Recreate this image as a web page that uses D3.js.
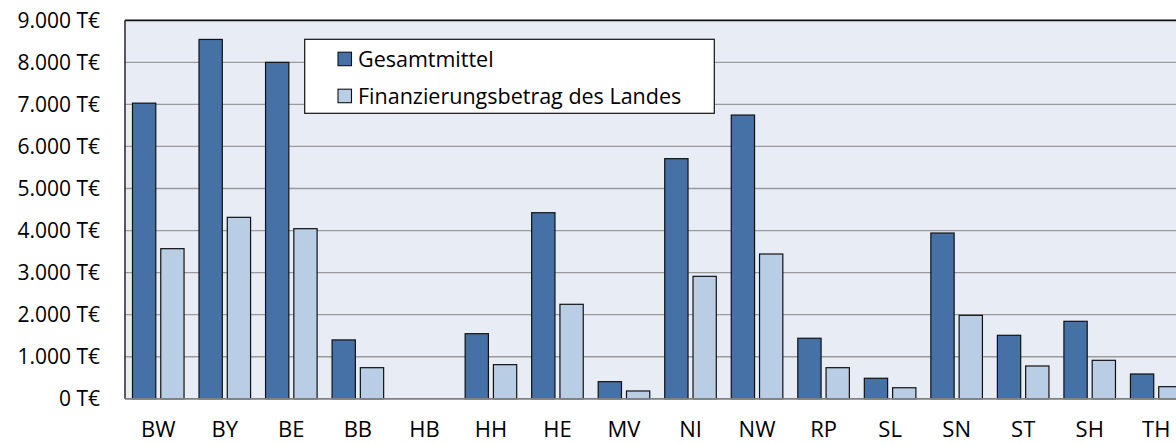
<!DOCTYPE html>
<html>
<head>
<meta charset="utf-8">
<script src="https://cdn.jsdelivr.net/npm/d3@7/dist/d3.min.js"></script>
<style>
  html, body { margin: 0; padding: 0; background: #fff; }
  svg { display: block; }
  text { font-family: "Open Sans", "Noto Sans", sans-serif; fill: #000; }
</style>
</head>
<body>
<svg id="chart" width="1176" height="444"></svg>
<script>
const categories = ["BW","BY","BE","BB","HB","HH","HE","MV","NI","NW","RP","SL","SN","ST","SH","TH"];
const gesamtmittel = [7030, 8545, 8000, 1400, 0, 1548, 4425, 408, 5710, 6747, 1440, 488, 3942, 1510, 1843, 590];
const finanzierung = [3570, 4315, 4045, 740, 0, 812, 2247, 186, 2912, 3443, 740, 263, 1985, 780, 915, 288];
const seriesNames = ["Gesamtmittel", "Finanzierungsbetrag des Landes"];
const yTicks = [0, 1000, 2000, 3000, 4000, 5000, 6000, 7000, 8000, 9000];

(function () {
const colors = ["#4571A7", "#B9CDE5"];
const svg = d3.select("#chart");

const pLeft = 125, pRight = 1189.5, pTop = 20.3, pBottom = 398.8;

const x = d3.scaleBand().domain(categories).range([pLeft, pRight]).padding(0);
const y = d3.scaleLinear().domain([0, 9000]).range([pBottom, pTop]);

const de = d3.formatLocale({decimal: ",", thousands: ".", grouping: [3], currency: ["", "€"]});
const fmt = v => de.format(",d")(v) + " T€";

// plot background
svg.append("rect")
  .attr("x", pLeft).attr("y", pTop)
  .attr("width", pRight - pLeft).attr("height", pBottom - pTop)
  .attr("fill", "#E8ECF4");

// gridlines
svg.append("g").selectAll("line")
  .data(yTicks.filter(d => d > 0 && d < 9000))
  .join("line")
  .attr("x1", pLeft).attr("x2", pRight)
  .attr("y1", d => y(d)).attr("y2", d => y(d))
  .attr("stroke", "#9A9A9A").attr("stroke-width", 1.3);

// bars
const bw = x.bandwidth();
const barW = bw * 0.35, outer = bw * 0.1125, inner = bw * 0.075;
const series = [gesamtmittel, finanzierung];
series.forEach((vals, si) => {
  svg.append("g").selectAll("rect")
    .data(categories.map((c, i) => ({c, v: vals[i]})).filter(d => d.v > 0))
    .join("rect")
    .attr("x", d => x(d.c) + outer + si * (barW + inner))
    .attr("y", d => y(d.v))
    .attr("width", barW)
    .attr("height", d => y(0) - y(d.v))
    .attr("fill", colors[si])
    .attr("stroke", "#111")
    .attr("stroke-width", 1.2);
});

// borders
svg.append("line").attr("x1", pLeft).attr("x2", pRight).attr("y1", pTop).attr("y2", pTop)
  .attr("stroke", "#111").attr("stroke-width", 1.8);
svg.append("line").attr("x1", pLeft).attr("x2", pLeft).attr("y1", pTop).attr("y2", pBottom)
  .attr("stroke", "#333").attr("stroke-width", 1.6);
svg.append("line").attr("x1", pLeft).attr("x2", pRight).attr("y1", pBottom).attr("y2", pBottom)
  .attr("stroke", "#7F7F7F").attr("stroke-width", 1.8);

// y axis labels
const yAxis = d3.axisLeft(y).tickValues(yTicks).tickFormat(fmt).tickSize(0).tickPadding(0);
const gy = svg.append("g").attr("transform", `translate(100,0)`).call(yAxis);
gy.select(".domain").remove();
gy.selectAll("text")
  .attr("font-size", 21)
  .attr("font-family", "'Open Sans', sans-serif")
  .attr("fill", "#000");

// x axis labels
const xAxis = d3.axisBottom(x).tickSize(0).tickPadding(0);
const gx = svg.append("g").attr("transform", `translate(0,${pBottom})`).call(xAxis);
gx.select(".domain").remove();
gx.selectAll("text")
  .attr("y", 38.5).attr("dy", 0)
  .attr("font-size", 22)
  .attr("font-family", "'Open Sans', sans-serif")
  .attr("fill", "#000");

// legend
const lg = svg.append("g");
lg.append("rect").attr("x", 304.7).attr("y", 39.3).attr("width", 409.6).attr("height", 74)
  .attr("fill", "#fff").attr("stroke", "#111").attr("stroke-width", 1.2);
seriesNames.forEach((n, i) => {
  const cy = 59 + i * 37;
  lg.append("rect").attr("x", 338).attr("y", cy - 6.8).attr("width", 13.5).attr("height", 13.5)
    .attr("fill", colors[i]).attr("stroke", "#111").attr("stroke-width", 1.1);
  lg.append("text").attr("x", 358).attr("y", cy).attr("dy", "0.35em")
    .attr("font-size", 21.5).text(n);
});
})();
</script>
</body>
</html>
